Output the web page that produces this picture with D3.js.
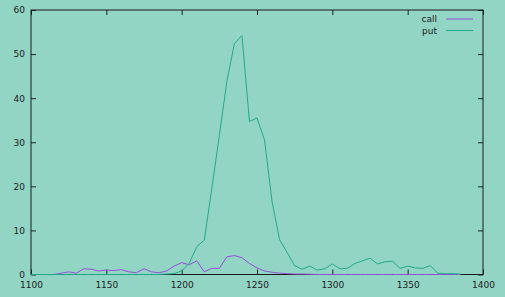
<!DOCTYPE html>
<html>
<head>
<meta charset="utf-8">
<script src="https://cdn.jsdelivr.net/npm/d3@7"></script>
<style>
  body { margin: 0; background: #92d5c4; }
  svg { display: block; font-family: "DejaVu Sans", sans-serif; }
</style>
</head>
<body>
<svg id="chart" width="505" height="297"></svg>
<script>
var strikes = [1100, 1105, 1110, 1115, 1120, 1125, 1130, 1135, 1140, 1145,
	1150, 1155, 1160, 1165, 1170, 1175, 1180, 1185, 1190, 1195,
	1200, 1205, 1210, 1215, 1220, 1225, 1230, 1235, 1240, 1245,
	1250, 1255, 1260, 1265, 1270, 1275, 1280, 1285, 1290, 1295,
	1300, 1305, 1310, 1315, 1320, 1325, 1330, 1335, 1340, 1345,
	1350, 1355, 1360, 1365, 1370, 1375, 1380, 1385];

var callValues = [0, 0, 0, 0, 0.3, 0.6, 0.3, 1.3, 1.2, 0.8,
	1.0, 0.9, 1.1, 0.6, 0.4, 1.3, 0.6, 0.4, 0.8, 1.9,
	2.7, 2.2, 3.1, 0.6, 1.4, 1.4, 4.0, 4.3, 3.8, 2.5,
	1.5, 0.8, 0.5, 0.3, 0.2, 0.1, 0.1, 0.05, 0, 0,
	0, 0, 0, 0, 0, 0, 0, 0, 0, 0,
	0, 0, 0, 0, 0, 0, 0, 0];

var putValues = [0, 0, 0, 0, 0, 0, 0, 0, 0, 0,
	0, 0, 0, 0, 0, 0, 0, 0, 0.1, 0.2,
	0.8, 2.5, 6.3, 7.8, 19.5, 31.5, 43.8, 52.4, 54.2, 34.7,
	35.5, 30.5, 16.5, 7.9, 5.0, 2.0, 1.2, 1.9, 1.0, 1.3,
	2.4, 1.3, 1.4, 2.5, 3.1, 3.7, 2.4, 2.9, 3.0, 1.4,
	1.9, 1.5, 1.4, 2.0, 0.3, 0.2, 0.2, 0.1];

var xTicks = [1100, 1150, 1200, 1250, 1300, 1350, 1400];
var yTicks = [0, 10, 20, 30, 40, 50, 60];

var seriesNames = ["call", "put"];
var seriesColors = ["#9450d8", "#22aa88"];

(function () {
	var svg = d3.select("#chart");
	var left = 31, right = 483, top = 10, bottom = 274.5;

	var x = d3.scaleLinear().domain([1100, 1400]).range([left, right]);
	var y = d3.scaleLinear().domain([0, 60]).range([bottom, top]);

	svg.append("rect")
		.attr("width", 505).attr("height", 297)
		.attr("fill", "#92d5c4");

	function styleAxis(g) {
		g.select(".domain").remove();
		g.selectAll(".tick line").attr("stroke", "#202020");
		g.selectAll(".tick text")
			.attr("fill", "#202020")
			.style("font-size", "9px")
			.style("font-family", "DejaVu Sans, sans-serif");
	}

	svg.append("g")
		.attr("transform", "translate(0," + bottom + ")")
		.call(d3.axisBottom(x).tickValues(xTicks).tickSize(-5).tickPadding(7).tickFormat(d3.format("d")))
		.call(styleAxis);

	svg.append("g")
		.attr("transform", "translate(0," + top + ")")
		.call(d3.axisTop(x).tickValues(xTicks).tickSize(-5).tickFormat(""))
		.call(styleAxis);

	svg.append("g")
		.attr("transform", "translate(" + left + ",0)")
		.call(d3.axisLeft(y).tickValues(yTicks).tickSize(-5).tickPadding(6).tickFormat(d3.format("d")))
		.call(styleAxis);

	svg.append("g")
		.attr("transform", "translate(" + right + ",0)")
		.call(d3.axisRight(y).tickValues(yTicks).tickSize(-5).tickFormat(""))
		.call(styleAxis);

	svg.append("rect")
		.attr("x", left).attr("y", top)
		.attr("width", right - left).attr("height", bottom - top)
		.attr("fill", "none")
		.attr("stroke", "#1a1a1a")
		.attr("stroke-width", 1);

	var line = d3.line()
		.x(function (d) { return x(d[0]); })
		.y(function (d) { return y(d[1]); });

	var allSeries = [callValues, putValues];
	allSeries.forEach(function (vals, i) {
		var pts = strikes.map(function (s, j) { return [s, vals[j]]; });
		svg.append("path")
			.datum(pts)
			.attr("fill", "none")
			.attr("stroke", seriesColors[i])
			.attr("stroke-width", 1)
			.attr("stroke-linejoin", "round")
			.attr("d", line);
	});

	// legend
	var legend = svg.append("g");
	seriesNames.forEach(function (name, i) {
		var ly = 19 + i * 11.5;
		legend.append("text")
			.attr("x", 437).attr("y", ly)
			.attr("dy", "0.35em")
			.attr("text-anchor", "end")
			.attr("fill", "#202020")
			.style("font-size", "9px")
			.text(name);
		legend.append("line")
			.attr("x1", 446).attr("x2", 473)
			.attr("y1", ly).attr("y2", ly)
			.attr("stroke", seriesColors[i])
			.attr("stroke-width", 1);
	});
})();
</script>
</body>
</html>
